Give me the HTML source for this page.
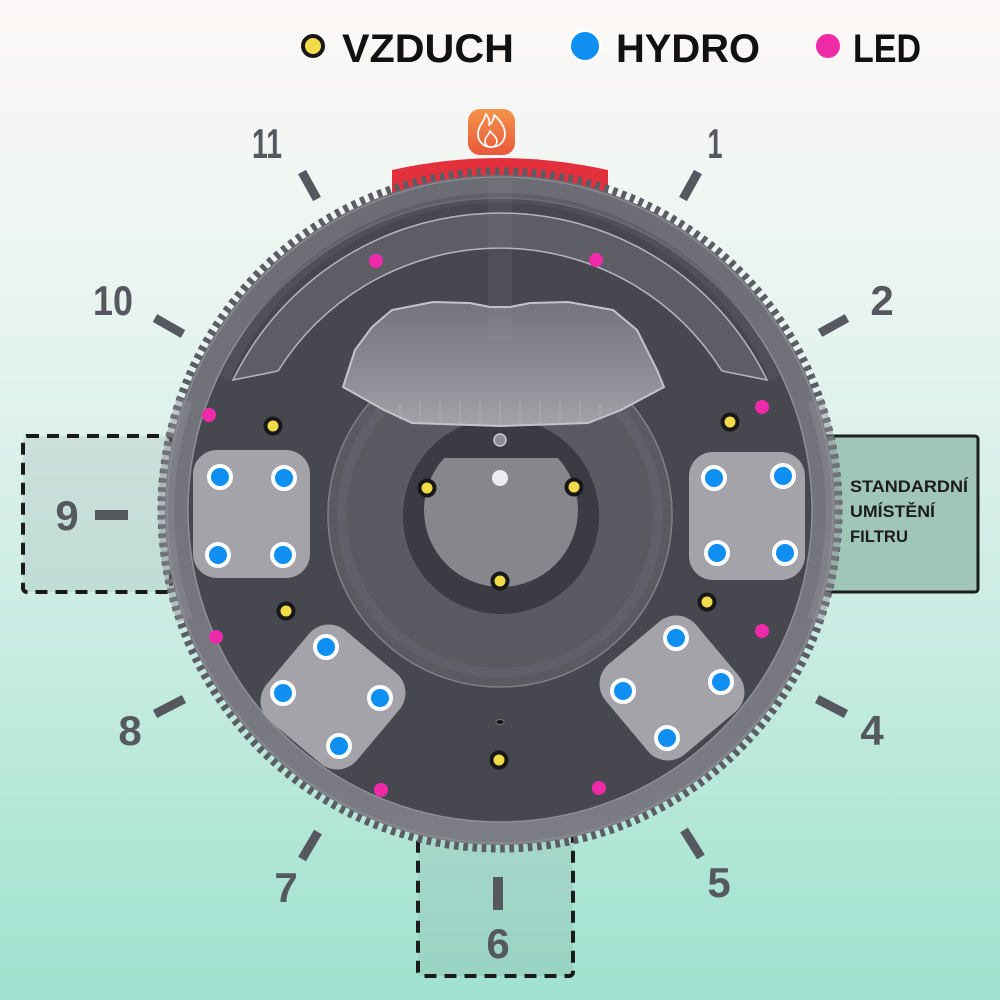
<!DOCTYPE html>
<html><head><meta charset="utf-8"><style>
html,body{margin:0;padding:0;width:1000px;height:1000px;overflow:hidden;background:#e0f2ec}
svg{display:block}
text{font-family:"Liberation Sans",sans-serif;font-weight:bold}
</style></head><body>
<svg viewBox="0 0 1000 1000" width="1000" height="1000" xmlns="http://www.w3.org/2000/svg">
<defs>
<linearGradient id="bg" x1="0" y1="0" x2="0" y2="1">
<stop offset="0" stop-color="#fdf8f7"/><stop offset="0.3" stop-color="#e9f4f0"/><stop offset="0.6" stop-color="#cdede3"/><stop offset="1" stop-color="#9fe2cf"/>
</linearGradient>
<linearGradient id="rim" x1="0" y1="0" x2="0" y2="1"><stop offset="0" stop-color="#6c6c74"/><stop offset="1" stop-color="#7c7c84"/></linearGradient>
<linearGradient id="lounge" x1="0" y1="0" x2="0" y2="1"><stop offset="0" stop-color="#74747d"/><stop offset="0.55" stop-color="#8b8b93"/><stop offset="1" stop-color="#a2a2a9"/></linearGradient>
<linearGradient id="fire" x1="0" y1="0" x2="0" y2="1"><stop offset="0" stop-color="#f5944a"/><stop offset="1" stop-color="#e9573b"/></linearGradient>
<clipPath id="fw"><rect x="400" y="458" width="200" height="200"/></clipPath>
</defs>
<rect width="1000" height="1000" fill="url(#bg)"/>

<!-- dashed boxes -->
<rect x="23" y="436" width="148" height="156" rx="4" fill="rgba(90,110,105,0.12)" stroke="#1b1b1b" stroke-width="4" stroke-dasharray="12 8"/>
<rect x="418" y="800" width="155" height="176" rx="4" fill="rgba(90,110,105,0.12)" stroke="#1b1b1b" stroke-width="4" stroke-dasharray="12 8"/>
<!-- filter box -->
<rect x="800" y="436" width="178" height="156" rx="3" fill="#9fc6b7" stroke="#1e1e1e" stroke-width="3"/>

<!-- red arc -->
<path d="M392,195 L392,170 Q500,146 608,170 L608,195 Z" fill="#e2303c"/>

<!-- tub -->
<circle cx="500" cy="510" r="338.5" fill="none" stroke="#5c5c64" stroke-width="8" pathLength="460" stroke-dasharray="1 1"/>
<circle cx="500" cy="510" r="335" fill="url(#rim)"/>
<path d="M185,400 A333,333 0 0 0 185,620" fill="none" stroke="#8e8e96" stroke-width="16" opacity="0.45"/>
<path d="M815,400 A333,333 0 0 1 815,620" fill="none" stroke="#8e8e96" stroke-width="16" opacity="0.45"/>
<circle cx="500" cy="510" r="333" fill="none" stroke="#8e8e96" stroke-width="1.2"/>
<circle cx="500" cy="510" r="312" fill="#47474f" stroke="#8f8f97" stroke-width="1.5"/>
<path d="M225,378 A300,300 0 0 1 775,378" fill="none" stroke="#56565f" stroke-width="10" opacity="0.6"/>
<path d="M233,380 A297,297 0 0 1 767,380 L722,371 A262,262 0 0 0 278,371 Z" fill="#5d5d66" stroke="#b5b5bd" stroke-width="1.5"/>
<!-- bench ring -->
<circle cx="500" cy="515" r="172" fill="#5a5a63" stroke="#80808a" stroke-width="1.5"/>
<circle cx="500" cy="515" r="158" fill="none" stroke="#60606a" stroke-width="10"/>
<!-- footwell -->
<circle cx="501" cy="516" r="98" fill="#3b3b44"/>
<circle cx="501" cy="510" r="77" fill="#86868d" clip-path="url(#fw)"/>
<!-- lounge -->
<path d="M343,387 L355,350 L372,327 L392,310 L433,302 L470,303 L490,307 L510,307 L530,303 L568,302 L613,310 L637,330 L657,370 L664,387 L621,410 L588,423 L500,426 L412,423 L384,410 Z" fill="url(#lounge)" stroke="#c4c4cc" stroke-width="2"/>
<g stroke="#b9b9c0" stroke-width="1" opacity="0.6">
<line x1="400" y1="402" x2="400" y2="420"/><line x1="420" y1="400" x2="420" y2="422"/><line x1="440" y1="400" x2="440" y2="423"/><line x1="460" y1="400" x2="460" y2="424"/><line x1="480" y1="400" x2="480" y2="425"/><line x1="500" y1="400" x2="500" y2="425"/><line x1="520" y1="400" x2="520" y2="425"/><line x1="540" y1="400" x2="540" y2="424"/><line x1="560" y1="400" x2="560" y2="423"/><line x1="580" y1="400" x2="580" y2="422"/><line x1="600" y1="402" x2="600" y2="420"/>
</g>
<rect x="488" y="180" width="24" height="160" fill="#9a9aa2" opacity="0.1"/>
<!-- small jets -->
<circle cx="500" cy="440" r="6" fill="#8c8c94" stroke="#c8c8ce" stroke-width="1.5"/>
<circle cx="500" cy="478" r="8" fill="#ececee"/>
<ellipse cx="500" cy="722" rx="4" ry="2.5" fill="#15151a" stroke="#777" stroke-width="1"/>

<!-- panels -->
<g fill="#a3a3a9">
<rect x="193" y="450" width="117" height="128" rx="24"/>
<rect x="689" y="452" width="116" height="128" rx="24"/>
<rect x="-59" y="-59" width="118" height="118" rx="26" transform="translate(333,697) rotate(40)"/>
<rect x="-59" y="-59" width="118" height="118" rx="26" transform="translate(672,688) rotate(-40)"/>
</g>

<!-- hydro jets -->
<g fill="#0f8ff2" stroke="#ffffff" stroke-width="4">
<circle cx="220" cy="477" r="11"/><circle cx="284" cy="478" r="11"/><circle cx="218" cy="555" r="11"/><circle cx="283" cy="555" r="11"/>
<circle cx="714" cy="478" r="11"/><circle cx="783" cy="476" r="11"/><circle cx="717" cy="553" r="11"/><circle cx="785" cy="553" r="11"/>
<circle cx="326" cy="647" r="11"/><circle cx="283" cy="693" r="11"/><circle cx="380" cy="698" r="11"/><circle cx="339" cy="746" r="11"/>
<circle cx="676" cy="638" r="11"/><circle cx="623" cy="691" r="11"/><circle cx="721" cy="682" r="11"/><circle cx="667" cy="738" r="11"/>
</g>
<!-- air -->
<g fill="#f2dc4a" stroke="#18181b" stroke-width="4">
<circle cx="273" cy="426" r="7.5"/><circle cx="286" cy="611" r="7.5"/><circle cx="427" cy="488" r="7.5"/><circle cx="574" cy="487" r="7.5"/>
<circle cx="500" cy="581" r="7.5"/><circle cx="730" cy="422" r="7.5"/><circle cx="707" cy="602" r="7.5"/><circle cx="499" cy="760" r="7.5"/>
</g>
<!-- LED -->
<g fill="#ef2aa8">
<circle cx="376" cy="261" r="7"/><circle cx="596" cy="260" r="7"/><circle cx="209" cy="415" r="7"/><circle cx="762" cy="407" r="7"/>
<circle cx="216" cy="637" r="7"/><circle cx="762" cy="631" r="7"/><circle cx="381" cy="790" r="7"/><circle cx="599" cy="788" r="7"/>
</g>

<!-- filter text -->
<g fill="#1c1c1c" font-size="17">
<text x="850" y="492" textLength="118" lengthAdjust="spacingAndGlyphs">STANDARDNÍ</text>
<text x="850" y="517" textLength="85" lengthAdjust="spacingAndGlyphs">UMÍSTĚNÍ</text>
<text x="850" y="542" textLength="58" lengthAdjust="spacingAndGlyphs">FILTRU</text>
</g>

<!-- ticks -->
<g stroke="#55595f" stroke-width="9">
<line x1="302" y1="172" x2="317" y2="199"/>
<line x1="698" y1="172" x2="683" y2="199"/>
<line x1="155" y1="318" x2="183" y2="334"/>
<line x1="847" y1="318" x2="820" y2="333"/>
<line x1="95" y1="515" x2="128" y2="515" stroke-width="10"/>
<line x1="155" y1="714" x2="184" y2="699"/>
<line x1="817" y1="699" x2="846" y2="714"/>
<line x1="318" y1="832" x2="302" y2="859"/>
<line x1="684" y1="830" x2="701" y2="857"/>
<line x1="498" y1="877" x2="498" y2="910" stroke-width="10"/>
</g>
<!-- numbers -->
<g fill="#55595f" font-size="42" text-anchor="middle">
<text x="267" y="158" textLength="30" lengthAdjust="spacingAndGlyphs">11</text>
<text x="715" y="158" textLength="15" lengthAdjust="spacingAndGlyphs">1</text>
<text x="113" y="315" textLength="40" lengthAdjust="spacingAndGlyphs">10</text>
<text x="882" y="315">2</text>
<text x="67" y="530">9</text>
<text x="130" y="745">8</text>
<text x="872" y="745">4</text>
<text x="719" y="897">5</text>
<text x="286" y="902">7</text>
<text x="498" y="958">6</text>
</g>

<!-- legend -->
<circle cx="313" cy="46" r="10" fill="#f2dc4a" stroke="#18181b" stroke-width="4"/>
<text x="342" y="62" font-size="40" fill="#111" textLength="172" lengthAdjust="spacingAndGlyphs">VZDUCH</text>
<circle cx="585" cy="46" r="15.5" fill="#0f8ff2" stroke="#ffffff" stroke-width="3"/>
<text x="616" y="62" font-size="40" fill="#111" textLength="144" lengthAdjust="spacingAndGlyphs">HYDRO</text>
<circle cx="828" cy="46" r="12" fill="#ef2aa8"/>
<text x="853" y="62" font-size="40" fill="#111" textLength="68" lengthAdjust="spacingAndGlyphs">LED</text>

<!-- fire icon -->
<rect x="468" y="109" width="47" height="46" rx="12" fill="url(#fire)"/>
<path d="M491,147 c-8,0 -13,-6 -13,-13 c0,-8 6,-12 8,-20 c3,4 4,7 3,11 c3,-2 5,-6 5,-10 c6,5 11,12 11,19 c0,8 -6,13 -14,13 z" fill="none" stroke="#fff" stroke-width="1.8" stroke-linejoin="round"/>
<path d="M491,147 c-4,0 -6,-3 -6,-6 c0,-4 4,-6 5,-10 c2,3 7,6 7,10 c0,3 -2,6 -6,6z" fill="none" stroke="#fff" stroke-width="1.6" stroke-linejoin="round"/>
</svg>
</body></html>
